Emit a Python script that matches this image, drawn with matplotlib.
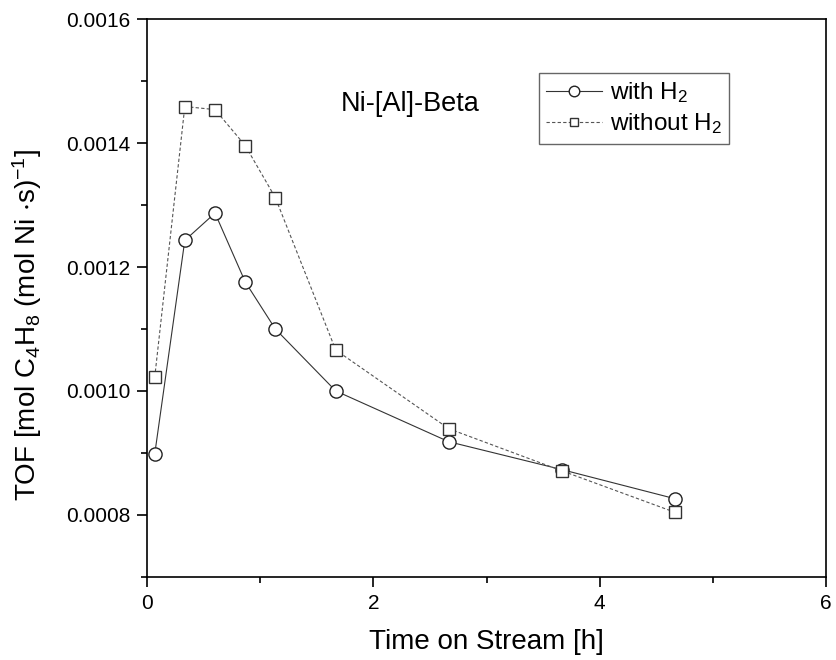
import matplotlib
matplotlib.use("Agg")
import matplotlib.pyplot as plt
from matplotlib.ticker import MultipleLocator

plt.rcParams["font.family"] = ["Liberation Sans", "DejaVu Sans"]
plt.rcParams["mathtext.fontset"] = "custom"
plt.rcParams["mathtext.rm"] = "Liberation Sans"
plt.rcParams["mathtext.default"] = "regular"

# time on stream [h]
time_h = [0.067, 0.333, 0.6, 0.867, 1.133, 1.667, 2.667, 3.667, 4.667]
tof_with_h2 = [0.000898, 0.001243, 0.001287, 0.001176, 0.001100, 0.001000,
               0.000918, 0.000873, 0.000826]
tof_without_h2 = [0.001022, 0.001459, 0.001454, 0.001396, 0.001312, 0.001066,
                  0.000939, 0.000871, 0.000804]

fig = plt.figure(figsize=(8.36, 6.6), dpi=100)
ax = fig.add_axes([0.176, 0.126, 0.812, 0.845])

ax.plot(time_h, tof_with_h2, "-", color="#333333", lw=0.8,
        marker="o", ms=9.5, mfc="white", mec="#222222", mew=1.0,
        label="with H$_2$")
ax.plot(time_h, tof_without_h2, "--", color="#555555", lw=0.8, dashes=(3, 2),
        marker="s", ms=8, mfc="white", mec="#333333", mew=1.0,
        label="without H$_2$")

ax.set_xlim(0, 6)
ax.set_ylim(0.0007, 0.0016)
ax.xaxis.set_major_locator(MultipleLocator(2))
ax.xaxis.set_minor_locator(MultipleLocator(1))
ax.yaxis.set_major_locator(MultipleLocator(0.0002))
ax.yaxis.set_minor_locator(MultipleLocator(0.0001))
ax.yaxis.set_major_formatter(plt.FuncFormatter(lambda v, p: f"{v:.4f}"))
ax.tick_params(which="major", direction="out", length=7, width=1.2,
               labelsize=15, pad=5)
ax.tick_params(which="minor", direction="out", length=4, width=1.2)
for s in ax.spines.values():
    s.set_linewidth(1.2)

ax.set_xlabel("Time on Stream [h]", fontsize=20, labelpad=12)
ax.set_ylabel("TOF [mol C$_4$H$_8$ (mol Ni $\\cdot$s)$^{-1}$]", fontsize=20)
ax.yaxis.set_label_coords(-0.152, 0.452)

ax.text(0.387, 0.848, "Ni-[Al]-Beta", transform=ax.transAxes, fontsize=19.5,
        ha="center", va="center")

leg = ax.legend(loc="upper right", bbox_to_anchor=(0.857, 0.903), fontsize=17.5,
                fancybox=False, edgecolor="#666666", framealpha=1,
                handlelength=2.3, handletextpad=0.3, borderpad=0.3,
                labelspacing=0.25, borderaxespad=0, markerscale=0.8)
leg.get_frame().set_linewidth(1.0)

fig.savefig("out.png", dpi=100)
